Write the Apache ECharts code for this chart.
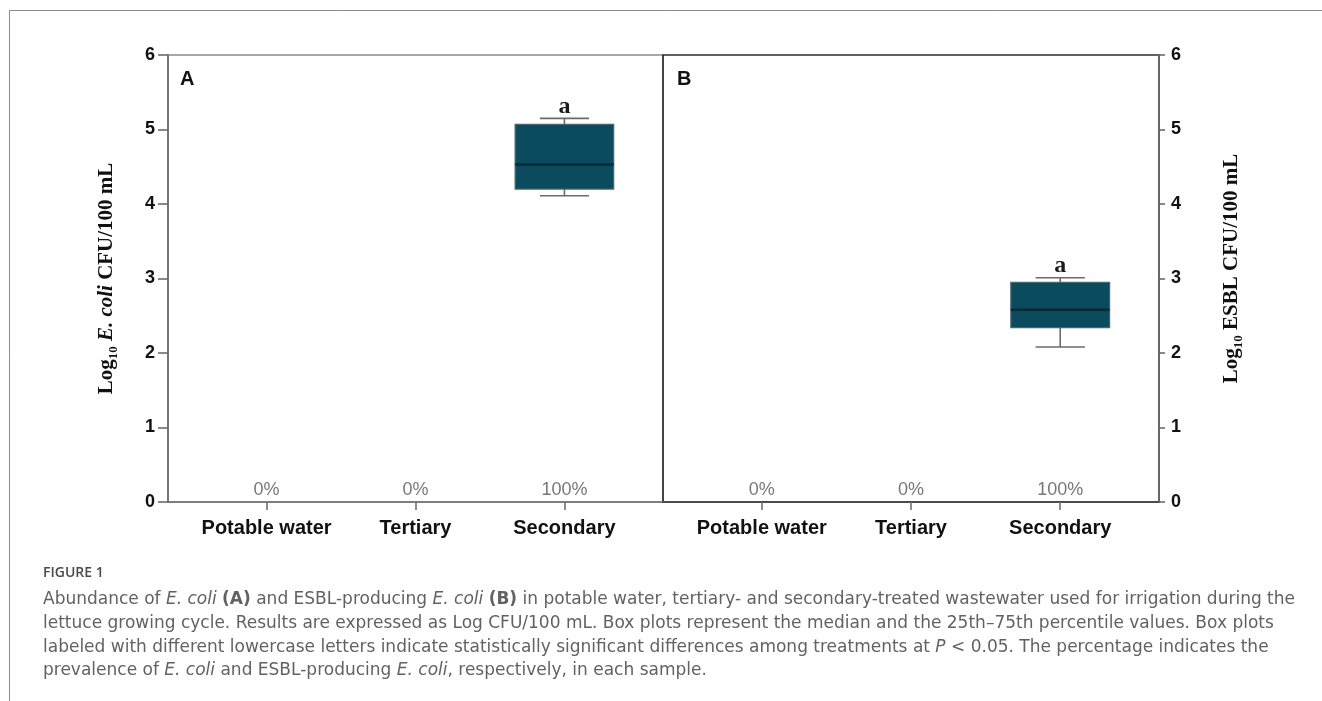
<!DOCTYPE html>
<html>
<head>
<meta charset="utf-8">
<title>Figure 1</title>
<script src="https://cdn.jsdelivr.net/npm/echarts@6/dist/echarts.min.js"></script>
<style>
  html, body { margin: 0; padding: 0; background: #fff; }
  #chart { width: 1322px; height: 701px; }
</style>
</head>
<body>
<div id="chart"></div>
<script>
// Sample groups along the x axis
const categories = ['Potable water', 'Tertiary', 'Secondary'];

// Five-number summaries [lower whisker, Q1, median, Q3, upper whisker]; null = not detected
const ecoliSummary = [null, null, [4.11, 4.20, 4.53, 5.07, 5.15]];
const esblSummary = [null, null, [2.08, 2.34, 2.58, 2.95, 3.01]];

// Prevalence (%) in each sample
const ecoliPrevalence = [0, 0, 100];
const esblPrevalence = [0, 0, 100];

// Significance letters
const ecoliLetters = [null, null, 'a'];
const esblLetters = [null, null, 'a'];

// Log10 axis ticks
const yTicks = [0, 1, 2, 3, 4, 5, 6];

const chart = echarts.init(document.getElementById('chart'), null, { renderer: 'canvas' });

const sans = '"Liberation Sans", Arial, Helvetica, sans-serif';
const serif = '"Liberation Serif", "Times New Roman", serif';
const capFont = '"DejaVu Sans", "Open Sans", sans-serif';

function boxData(summary) {
  return summary.map((s, i) => s ? [i].concat(s) : null).filter(Boolean);
}

function makeBoxRenderer(letters) {
  return function (params, api) {
    const x = api.value(0);
    const lo = api.coord([x, api.value(1)]);
    const q1 = api.coord([x, api.value(2)]);
    const md = api.coord([x, api.value(3)]);
    const q3 = api.coord([x, api.value(4)]);
    const hi = api.coord([x, api.value(5)]);
    const boxW = api.size([0.662, 0])[0];
    const capW = api.size([0.33, 0])[0];
    const cx = md[0];
    const wStyle = { stroke: '#6b6b6b', lineWidth: 1.6 };
    const children = [
      { type: 'line', shape: { x1: cx, y1: hi[1], x2: cx, y2: q3[1] }, style: wStyle },
      { type: 'line', shape: { x1: cx, y1: q1[1], x2: cx, y2: lo[1] }, style: wStyle },
      { type: 'line', shape: { x1: cx - capW / 2, y1: hi[1], x2: cx + capW / 2, y2: hi[1] }, style: wStyle },
      { type: 'line', shape: { x1: cx - capW / 2, y1: lo[1], x2: cx + capW / 2, y2: lo[1] }, style: wStyle },
      { type: 'rect', shape: { x: cx - boxW / 2, y: q3[1], width: boxW, height: q1[1] - q3[1] },
        style: { fill: '#0b4b5e', stroke: '#4a6670', lineWidth: 1.2 } },
      { type: 'line', shape: { x1: cx - boxW / 2, y1: md[1], x2: cx + boxW / 2, y2: md[1] },
        style: { stroke: '#062b36', lineWidth: 2.4 } }
    ];
    const letter = letters[Math.round(x)];
    if (letter) {
      children.push({
        type: 'text', x: cx, y: hi[1],
        style: { text: letter, textAlign: 'center', textVerticalAlign: 'bottom',
                 font: 'bold 24px ' + serif, fill: '#1a1a1a' }
      });
    }
    return { type: 'group', children: children };
  };
}

function prevalenceData(prev) {
  return prev.map((p, i) => [i, 0, p]);
}

const xCommon = {
  type: 'value',
  min: -0.662,
  max: 2.662,
  splitLine: { show: false },
  axisLine: { show: true, onZero: false, lineStyle: { color: '#707070', width: 1.6 } },
  axisTick: { show: true, customValues: [0, 1, 2], length: 8, lineStyle: { color: '#707070', width: 1.6 } },
  axisLabel: {
    customValues: [0, 1, 2],
    formatter: v => categories[Math.round(v)],
    margin: 16,
    color: '#111',
    fontFamily: sans,
    fontWeight: 'bold',
    fontSize: 20
  }
};

const yCommon = {
  type: 'value',
  min: 0,
  max: 6,
  interval: 1,
  splitLine: { show: false },
  axisLabel: {
    formatter: v => yTicks.includes(v) ? String(v) : '',
    color: '#111',
    fontFamily: sans,
    fontWeight: 'bold',
    fontSize: 18
  },
  nameLocation: 'middle',
  nameRotate: 90
};

function axisName(organism) {
  return '{b|Log}{sub|10}{b| }' + organism + '{b| CFU/100 mL}';
}

const nameRich = {
  b: { fontFamily: serif, fontWeight: 'bold', fontSize: 21, color: '#111', lineHeight: 26 },
  it: { fontFamily: serif, fontWeight: 'bold', fontStyle: 'italic', fontSize: 21, color: '#111', lineHeight: 26 },
  sub: { fontFamily: serif, fontWeight: 'bold', fontSize: 13, color: '#111', lineHeight: 14, verticalAlign: 'bottom' }
};

const option = {
  animation: false,
  backgroundColor: '#ffffff',
  grid: [
    { left: 168, top: 55, width: 495, height: 447, show: true, borderColor: '#8a8a8a', borderWidth: 1.6, backgroundColor: 'transparent' },
    { left: 663, top: 55, width: 496, height: 447, show: true, borderColor: '#2e2e2e', borderWidth: 1.6, backgroundColor: 'transparent' }
  ],
  xAxis: [
    Object.assign({ gridIndex: 0 }, xCommon),
    Object.assign({ gridIndex: 1 }, xCommon, { axisLine: { show: true, onZero: false, lineStyle: { color: '#444', width: 1.6 } } })
  ],
  yAxis: [
    Object.assign({ gridIndex: 0, position: 'left' }, yCommon, {
      axisLine: { show: true, onZero: false, lineStyle: { color: '#6b6b6b', width: 1.6 } },
      axisTick: { show: true, length: 10, lineStyle: { color: '#6b6b6b', width: 1.6 } },
      axisLabel: Object.assign({}, yCommon.axisLabel, { margin: 13 }),
      name: axisName('{it|E. coli}'),
      nameGap: 48,
      nameTextStyle: { rich: nameRich }
    }),
    Object.assign({ gridIndex: 1, position: 'right' }, yCommon, {
      axisLine: { show: true, onZero: false, lineStyle: { color: '#6b6b6b', width: 1.6 } },
      axisTick: { show: true, length: 6, lineStyle: { color: '#6b6b6b', width: 1.6 } },
      axisLabel: Object.assign({}, yCommon.axisLabel, { margin: 12 }),
      name: axisName('{b|ESBL}'),
      nameGap: 60,
      nameTextStyle: { rich: nameRich, padding: [0, 0, 0, 20] }
    })
  ],
  series: [
    {
      type: 'custom', xAxisIndex: 0, yAxisIndex: 0,
      renderItem: makeBoxRenderer(ecoliLetters),
      data: boxData(ecoliSummary), z: 3
    },
    {
      type: 'custom', xAxisIndex: 1, yAxisIndex: 1,
      renderItem: makeBoxRenderer(esblLetters),
      data: boxData(esblSummary), z: 3
    },
    {
      type: 'scatter', xAxisIndex: 0, yAxisIndex: 0, symbolSize: 0, silent: true,
      data: prevalenceData(ecoliPrevalence),
      label: { show: true, position: 'top', distance: 3, formatter: p => p.value[2] + '%',
               color: '#555', fontFamily: sans, fontSize: 18 }
    },
    {
      type: 'scatter', xAxisIndex: 1, yAxisIndex: 1, symbolSize: 0, silent: true,
      data: prevalenceData(esblPrevalence),
      label: { show: true, position: 'top', distance: 3, formatter: p => p.value[2] + '%',
               color: '#555', fontFamily: sans, fontSize: 18 }
    }
  ],
  graphic: [
    // outer figure frame (top and left edges)
    { type: 'line', shape: { x1: 9.5, y1: 10.5, x2: 1322, y2: 10.5 }, style: { stroke: '#8c8c8c', lineWidth: 1 } },
    { type: 'line', shape: { x1: 9.5, y1: 10.5, x2: 9.5, y2: 701 }, style: { stroke: '#8c8c8c', lineWidth: 1 } },
    // panel letters
    { type: 'text', left: 180, top: 69, style: { text: 'A', font: 'bold 20px ' + sans, fill: '#111' } },
    { type: 'text', left: 677, top: 69, style: { text: 'B', font: 'bold 20px ' + sans, fill: '#111' } },
    // caption
    { type: 'text', left: 43, top: 566, style: { text: 'FIGURE 1', font: '600 14px "Open Sans", sans-serif', fill: '#4a4a4a' } },
    {
      type: 'text', left: 43, top: 588,
      style: {
        text: [
          'Abundance of {i|E. coli} {b|(A)} and ESBL-producing {i|E. coli} {b|(B)} in potable water, tertiary- and secondary-treated wastewater used for irrigation during the',
          'lettuce growing cycle. Results are expressed as Log CFU/100 mL. Box plots represent the median and the 25th\u201375th percentile values. Box plots',
          'labeled with different lowercase letters indicate statistically significant differences among treatments at {i|P} < 0.05. The percentage indicates the',
          'prevalence of {i|E. coli} and ESBL-producing {i|E. coli}, respectively, in each sample.'
        ].join('\n'),
        font: '17px ' + capFont,
        fill: '#626262',
        lineHeight: 23.7,
        rich: {
          i: { fontFamily: capFont, fontStyle: 'italic', fontSize: 17, fill: '#626262', lineHeight: 23.7 },
          b: { fontFamily: capFont, fontWeight: 'bold', fontSize: 17, fill: '#626262', lineHeight: 23.7 }
        }
      }
    }
  ]
};

chart.setOption(option);
</script>
</body>
</html>
